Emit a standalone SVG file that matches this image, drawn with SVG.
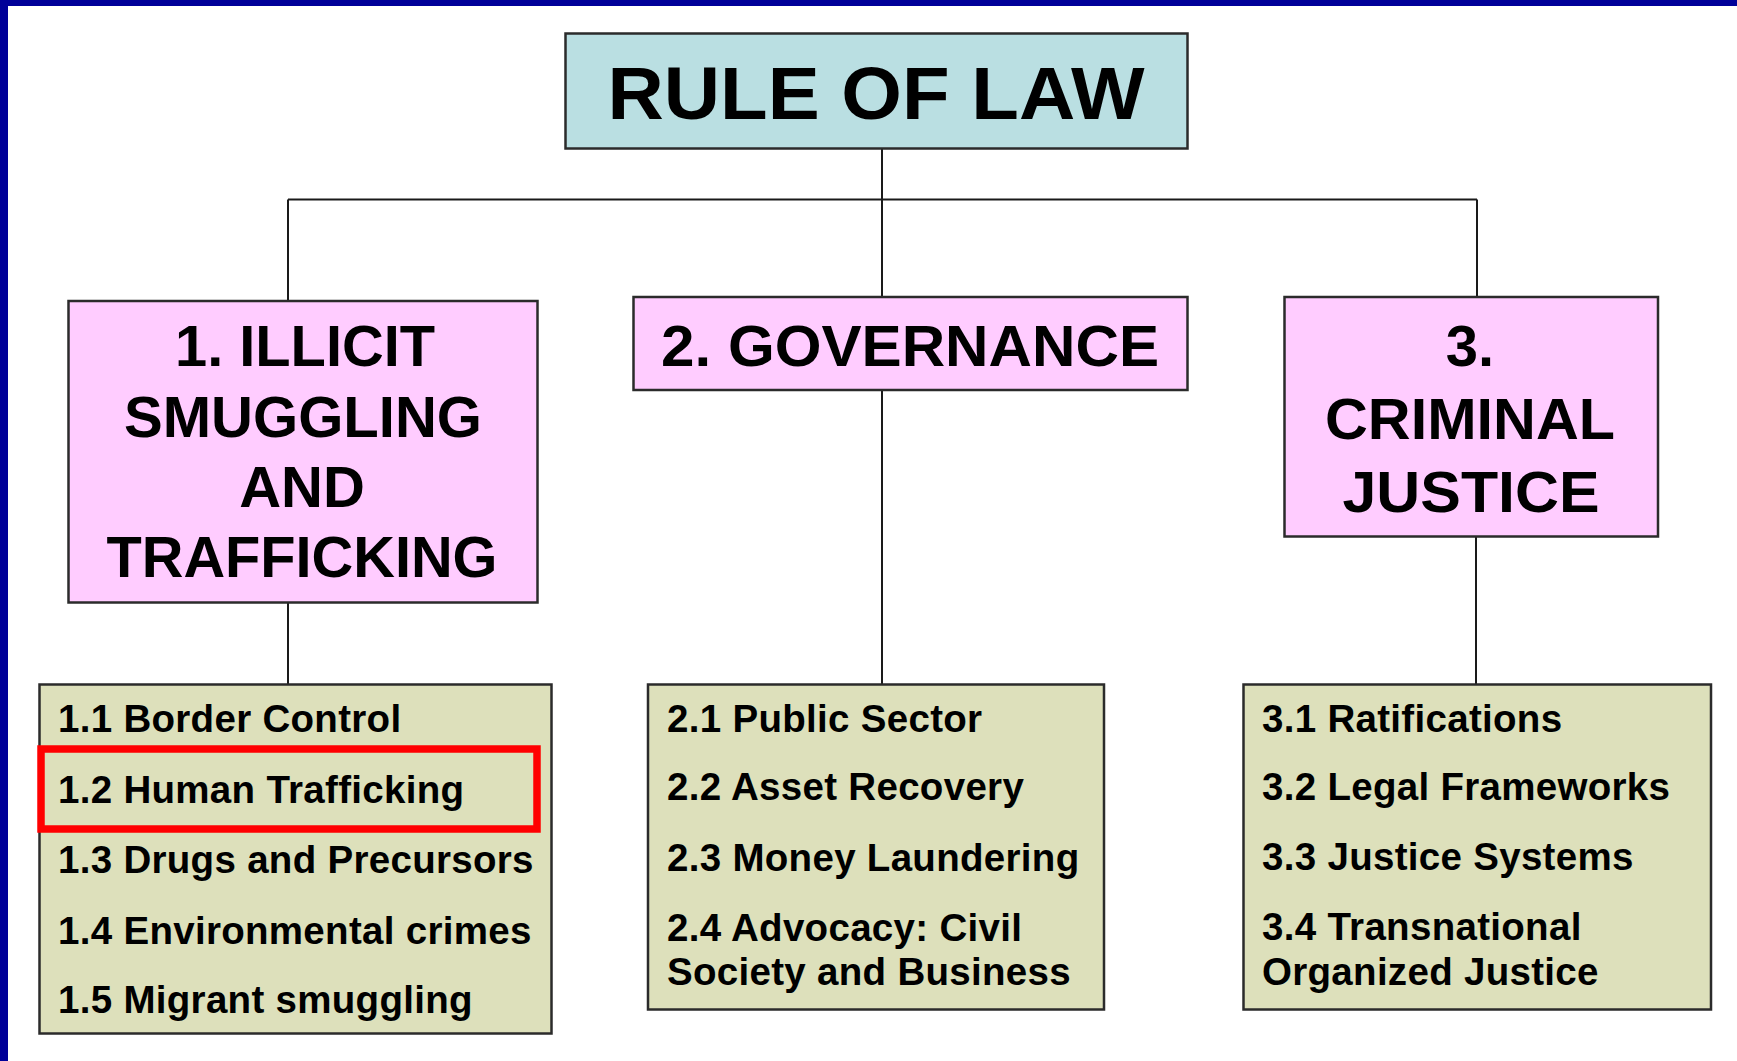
<svg xmlns="http://www.w3.org/2000/svg" width="1737" height="1061" viewBox="0 0 1737 1061">
<style>
.box{stroke:#2b2b2b;stroke-width:2.5}
.rol{fill:#BADFE2}
.top{fill:#FFCCFF}
.sub{fill:#DDE0BB}
.conn line{stroke:#1a1a1a;stroke-width:2}
text{font-family:"Liberation Sans",Arial,sans-serif;font-weight:bold;fill:#000}
.h{font-size:58px;text-anchor:middle}
.s{font-size:38.5px;letter-spacing:0.3px}
</style>
<rect x="0" y="0" width="1737" height="1061" fill="#ffffff"/>
<rect x="0" y="0" width="1737" height="6" fill="#000099"/>
<rect x="0" y="0" width="8" height="1061" fill="#000099"/>
<g id="connectors" class="conn">
<line x1="882" y1="148.5" x2="882" y2="199.5"/>
<line x1="288" y1="199.5" x2="1477" y2="199.5"/>
<line x1="288" y1="199.5" x2="288" y2="301"/>
<line x1="882" y1="199.5" x2="882" y2="297"/>
<line x1="1477" y1="199.5" x2="1477" y2="297"/>
<line x1="288" y1="602.5" x2="288" y2="684.5"/>
<line x1="882" y1="390" x2="882" y2="684.5"/>
<line x1="1476" y1="536" x2="1476" y2="684.5"/>
</g>
<g id="rule-of-law">
<rect class="box rol" x="565.5" y="33.5" width="622" height="115"/>
<text x="876" y="119" font-size="75" text-anchor="middle" textLength="537" lengthAdjust="spacingAndGlyphs">RULE OF LAW</text>
</g>
<g id="illicit">
<rect class="box top" x="68.5" y="301" width="469" height="301.5"/>
<text class="h" x="305" y="366" textLength="260" lengthAdjust="spacingAndGlyphs">1. ILLICIT</text>
<text class="h" x="303" y="436.5" textLength="358" lengthAdjust="spacingAndGlyphs">SMUGGLING</text>
<text class="h" x="302" y="506.5">AND</text>
<text class="h" x="302" y="576.5" textLength="391" lengthAdjust="spacingAndGlyphs">TRAFFICKING</text>
</g>
<g id="governance">
<rect class="box top" x="633.5" y="297" width="554" height="93"/>
<text class="h" x="910" y="366" textLength="498" lengthAdjust="spacingAndGlyphs">2. GOVERNANCE</text>
</g>
<g id="criminal-justice">
<rect class="box top" x="1284.5" y="297" width="373.5" height="239.5"/>
<text class="h" x="1470" y="366">3.</text>
<text class="h" x="1470" y="439" textLength="290" lengthAdjust="spacingAndGlyphs">CRIMINAL</text>
<text class="h" x="1471" y="511.5" textLength="257" lengthAdjust="spacingAndGlyphs">JUSTICE</text>
</g>
<g id="illicit-sub">
<rect class="box sub" x="39.5" y="684.5" width="512" height="349"/>
<text class="s" x="58" y="731.5">1.1 Border Control</text>
<text class="s" x="58" y="802.5">1.2 Human Trafficking</text>
<text class="s" x="58" y="873">1.3 Drugs and Precursors</text>
<text class="s" x="58" y="943.5">1.4 Environmental crimes</text>
<text class="s" x="58" y="1012.5">1.5 Migrant smuggling</text>
</g>
<g id="highlight">
<rect x="41" y="749" width="496" height="80" fill="none" stroke="#FF0000" stroke-width="7.5"/>
</g>
<g id="governance-sub">
<rect class="box sub" x="648" y="684.5" width="456" height="325"/>
<text class="s" x="667" y="731.5">2.1 Public Sector</text>
<text class="s" x="667" y="799.5">2.2 Asset Recovery</text>
<text class="s" x="667" y="870.5">2.3 Money Laundering</text>
<text class="s" x="667" y="940.5">2.4 Advocacy: Civil</text>
<text class="s" x="667" y="985">Society and Business</text>
</g>
<g id="criminal-justice-sub">
<rect class="box sub" x="1243.5" y="684.5" width="467.5" height="325"/>
<text class="s" x="1262" y="731.5">3.1 Ratifications</text>
<text class="s" x="1262" y="799.5">3.2 Legal Frameworks</text>
<text class="s" x="1262" y="870">3.3 Justice Systems</text>
<text class="s" x="1262" y="940">3.4 Transnational</text>
<text class="s" x="1262" y="985">Organized Justice</text>
</g>
</svg>
